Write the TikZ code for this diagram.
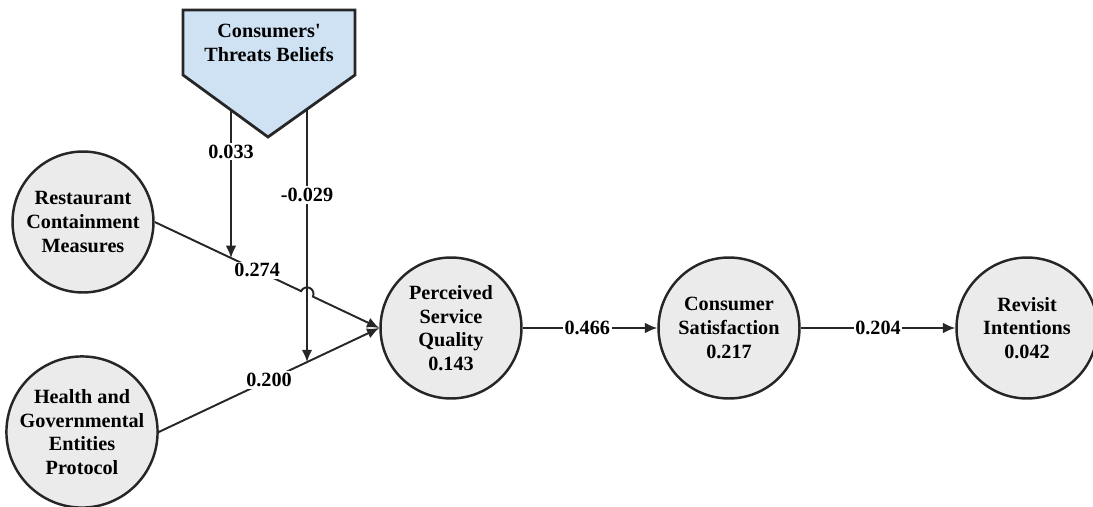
\documentclass[tikz,border=0pt]{standalone}
\usepackage{fontspec}
\setmainfont{Liberation Serif}
\newfontfamily\ctbfont{Liberation Serif}
\usetikzlibrary{arrows.meta,calc}
\definecolor{edgec}{HTML}{262626}
\definecolor{cfill}{HTML}{EBEBEB}
\definecolor{pfill}{HTML}{CFE2F3}
\begin{document}
\begin{tikzpicture}[x=0.02cm,y=-0.02cm,
  txt/.style={font=\fontsize{11.5}{13.5}\selectfont\bfseries, text=black},
  lv/.style={circle, draw=edgec, line width=1.4pt, fill=cfill, minimum size=2.82cm, inner sep=0pt, align=center, txt},
  conn/.style={draw=edgec, line width=1.1pt, -{Latex[length=7pt,width=6pt]}},
  lab/.style={fill=white, inner sep=1pt, txt}]
\useasboundingbox (0,0) rectangle (1093,507);

% pentagon (moderator)
\draw[draw=edgec, line width=1.6pt, fill=pfill, line join=miter]
  (183,10) -- (355,10) -- (355,75) -- (268,137) -- (183,75) -- cycle;
\node[txt, align=center, font=\ctbfont\fontsize{11.5}{13.5}\selectfont\bfseries] (ctb) at (269,43) {Consumers'\\Threats Beliefs};
\coordinate (t1) at (231,110);
\coordinate (t2) at (307,109);

% latent variables
\node[lv] (rcm) at (83,222) {Restaurant\\Containment\\Measures};
\node[lv] (hgep) at (82,432) {Health and\\Governmental\\Entities\\Protocol};
\node[lv] (psq) at (451,328) {Perceived\\Service\\Quality\\0.143};
\node[lv] (cs) at (729,328) {Consumer\\Satisfaction\\0.217};
\node[lv] (ri) at (1027,328) {Revisit\\Intentions\\0.042};

% helper points
\coordinate (m1) at (intersection cs: first line={(rcm.east)--(psq.west)}, second line={(t1)--(231,300)});
\coordinate (h) at (intersection cs: first line={(rcm.east)--(psq.west)}, second line={(t2)--(307,400)});
\coordinate (m2) at (intersection cs: first line={(hgep.east)--(psq.west)}, second line={(t2)--(307,400)});
\coordinate (h1) at ($(h)!0.13cm!(rcm.east)$);

% connectors
\draw[conn] (rcm.east) -- node[lab, pos=0.7] {0.274} (h1)
  arc[start angle=155, end angle=-25, radius=0.13cm] -- (psq.west);
\draw[conn] (hgep.east) -- node[lab, pos=0.5] {0.200} (psq.west);
\draw[conn] (t1) -- node[lab, pos=0.28] {0.033} (m1);
\draw[conn] (t2) -- node[lab, pos=0.34] {-0.029} (m2);
\draw[conn] (psq.east) -- node[lab, pos=0.48] {0.466} (cs.west);
\draw[conn] (cs.east) -- node[lab, pos=0.5] {0.204} (ri.west);
\end{tikzpicture}
\end{document}
